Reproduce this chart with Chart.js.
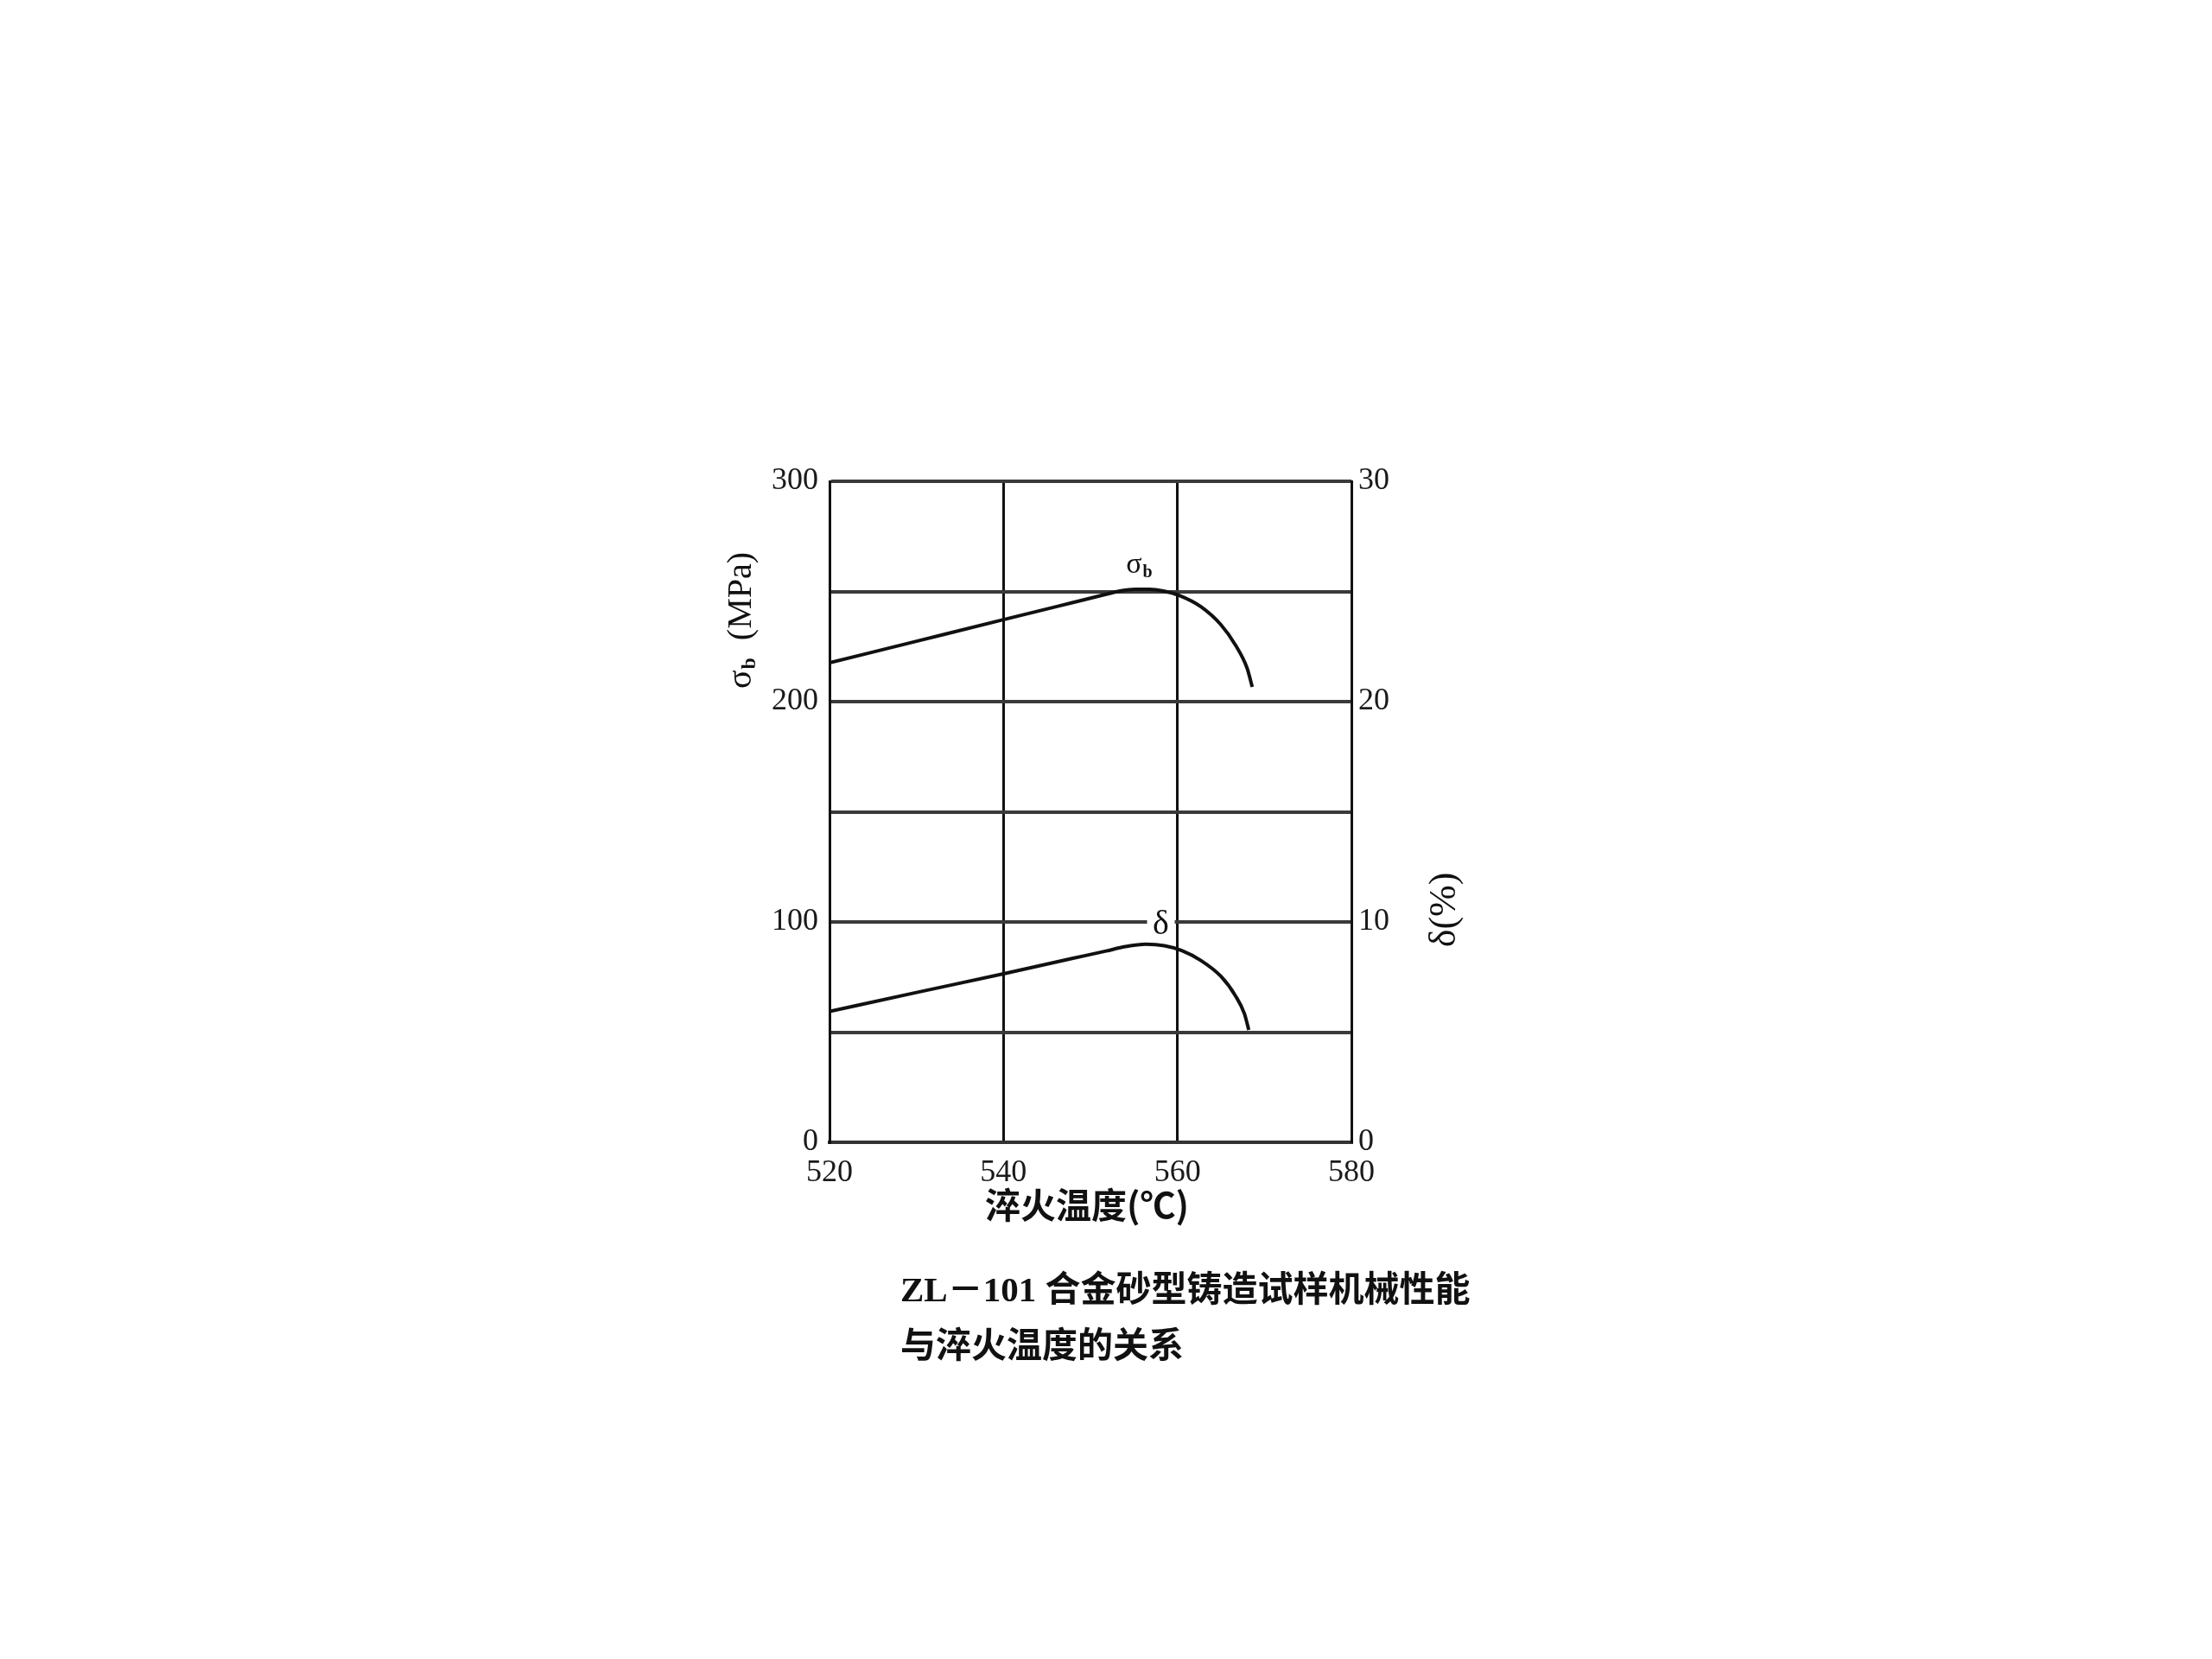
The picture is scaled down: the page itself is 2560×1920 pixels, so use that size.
<!DOCTYPE html>
<html>
<head>
<meta charset="utf-8">
<script src="https://cdn.jsdelivr.net/npm/chart.js@4"></script>
<style>
  html, body { margin: 0; padding: 0; background: #fff; }
  #wrap { position: relative; width: 2560px; height: 1920px; }
  #caption {
    position: absolute; left: 1042px; top: 1460px;
    font: bold 41px "Liberation Serif", "Noto Sans CJK SC";
    line-height: 65px; color: #111; white-space: nowrap;
  }
</style>
</head>
<body>
<div id="wrap">
  <canvas id="chart" width="2560" height="1920"></canvas>
  <div id="caption">ZL－101 合金砂型铸造试样机械性能<br>与淬火温度的关系</div>
</div>
<script>
// temperature axis (°C)
var tempTicks = [520, 540, 560, 580];

// σb curve, MPa (left axis)
var sigmaTemps  = [520, 530, 540, 548, 551.8, 553.5, 555.1, 556.8, 558.4, 560.2, 562.7, 565.0, 566.7, 568.0, 568.6];
var sigmaValues = [217.6, 227.4, 237.2, 245.0, 248.7, 250.3, 251.0, 251.0, 250.2, 248.2, 243.1, 234.9, 225.5, 215.3, 206.7];

// δ curve, % (right axis)
var deltaTemps  = [520, 530, 540, 548, 551.8, 554.0, 556.4, 558.5, 560.5, 562.7, 565.0, 566.7, 567.7, 568.2];
var deltaValues = [5.94, 6.8, 7.65, 8.35, 8.68, 8.88, 8.99, 8.92, 8.7, 8.25, 7.53, 6.63, 5.84, 5.1];

// curve labels, placed in data units
var sigmaLabelAt = { x: 555.6, y: 262 };
var deltaLabelAt = { x: 558.1, y: 99.6 };

function toPoints(xs, ys) {
  return xs.map(function (x, i) { return { x: x, y: ys[i] }; });
}

var serif = '"Liberation Serif", "DejaVu Serif", serif';

// draws "main" + subscript "sub" starting at x (textAlign left), returns end x
function drawSub(ctx, main, sub, x, y, size) {
  ctx.textAlign = 'left';
  ctx.textBaseline = 'middle';
  ctx.font = size + 'px ' + serif;
  ctx.fillText(main, x, y);
  var w1 = ctx.measureText(main).width;
  ctx.font = 'bold ' + Math.round(size * 0.6) + 'px ' + serif;
  ctx.fillText(sub, x + w1 + 1, y + size * 0.25);
  return x + w1 + 1 + ctx.measureText(sub).width;
}

function subWidth(ctx, main, sub, size) {
  ctx.font = size + 'px ' + serif;
  var w1 = ctx.measureText(main).width;
  ctx.font = 'bold ' + Math.round(size * 0.6) + 'px ' + serif;
  return w1 + 1 + ctx.measureText(sub).width;
}

var textPlugin = {
  id: 'texts',
  afterDraw: function (chart) {
    var ctx = chart.ctx;
    var sx = chart.scales.x, sy = chart.scales.y;
    var area = chart.chartArea;
    ctx.save();
    ctx.fillStyle = '#111';

    // left axis title  σb (MPa), rotated
    ctx.save();
    ctx.translate(858, 718);
    ctx.rotate(-Math.PI / 2);
    var size = 40;
    var w = subWidth(ctx, 'σ', 'b', size);
    ctx.font = size + 'px ' + serif;
    var wRest = ctx.measureText('  (MPa)').width;
    var start = -(w + wRest) / 2;
    var end = drawSub(ctx, 'σ', 'b', start, 0, size);
    ctx.font = size + 'px ' + serif;
    ctx.fillText('  (MPa)', end, 0);
    ctx.restore();

    // right axis title  δ(%), rotated
    ctx.save();
    ctx.translate(1672, 1053);
    ctx.rotate(-Math.PI / 2);
    ctx.font = '44px ' + serif;
    ctx.textAlign = 'center';
    ctx.textBaseline = 'middle';
    ctx.fillText('δ(%)', 0, 0);
    ctx.restore();

    // x axis title
    ctx.font = 'bold 41px "Noto Sans CJK SC"';
    ctx.textAlign = 'center';
    ctx.textBaseline = 'middle';
    ctx.fillText('淬火温度(℃)', (area.left + area.right) / 2 - 4, 1394);

    // σb label near the peak
    var px = sx.getPixelForValue(sigmaLabelAt.x);
    var py = sy.getPixelForValue(sigmaLabelAt.y);
    var lw = subWidth(ctx, 'σ', 'b', 34);
    drawSub(ctx, 'σ', 'b', px - lw / 2, py, 34);

    // δ label sits on the 100 gridline with a gap
    px = sx.getPixelForValue(deltaLabelAt.x);
    py = sy.getPixelForValue(deltaLabelAt.y);
    ctx.fillStyle = '#fff';
    ctx.fillRect(px - 16, py - 8, 32, 16);
    ctx.fillStyle = '#111';
    ctx.font = '40px ' + serif;
    ctx.textAlign = 'center';
    ctx.textBaseline = 'middle';
    ctx.fillText('δ', px, py + 2);

    ctx.restore();
  }
};

var ctx = document.getElementById('chart').getContext('2d');
var chart = new Chart(ctx, {
  type: 'scatter',
  data: {
    datasets: [{
      label: 'σb',
      data: toPoints(sigmaTemps, sigmaValues),
      yAxisID: 'y',
      showLine: true,
      borderColor: '#111',
      borderWidth: 4,
      pointRadius: 0,
      cubicInterpolationMode: 'monotone'
    }, {
      label: 'δ',
      data: toPoints(deltaTemps, deltaValues),
      yAxisID: 'y1',
      showLine: true,
      borderColor: '#111',
      borderWidth: 4,
      pointRadius: 0,
      cubicInterpolationMode: 'monotone'
    }]
  },
  options: {
    responsive: false,
    animation: false,
    layout: { padding: { top: 557, left: 0, right: 0, bottom: 0 } },
    plugins: {
      legend: { display: false },
      tooltip: { enabled: false }
    },
    scales: {
      x: {
        type: 'linear',
        min: tempTicks[0],
        max: tempTicks[tempTicks.length - 1],
        afterFit: function (scale) { scale.height = 598; },
        afterBuildTicks: function (scale) {
          scale.ticks = tempTicks.map(function (v) { return { value: v }; });
        },
        grid: { color: '#111', lineWidth: 3, drawTicks: false },
        border: { display: true, color: '#333', width: 4 },
        ticks: {
          padding: 14,
          color: '#1a1a1a',
          font: { family: serif, size: 36 }
        }
      },
      y: {
        position: 'left',
        min: 0,
        max: 300,
        afterFit: function (scale) { scale.width = 960; },
        grid: { color: '#3a3a3a', lineWidth: 4, drawTicks: false },
        border: { display: true, color: '#111', width: 3 },
        ticks: {
          stepSize: 50,
          padding: 13,
          color: '#1a1a1a',
          font: { family: serif, size: 36 },
          callback: function (v) { return v % 100 === 0 ? v : ''; }
        }
      },
      y1: {
        position: 'right',
        min: 0,
        max: 30,
        afterFit: function (scale) { scale.width = 996; },
        grid: { display: false, drawTicks: false },
        border: { display: true, color: '#111', width: 3 },
        ticks: {
          stepSize: 10,
          padding: 8,
          color: '#1a1a1a',
          font: { family: serif, size: 36 }
        }
      }
    }
  },
  plugins: [textPlugin]
});
</script>
</body>
</html>
